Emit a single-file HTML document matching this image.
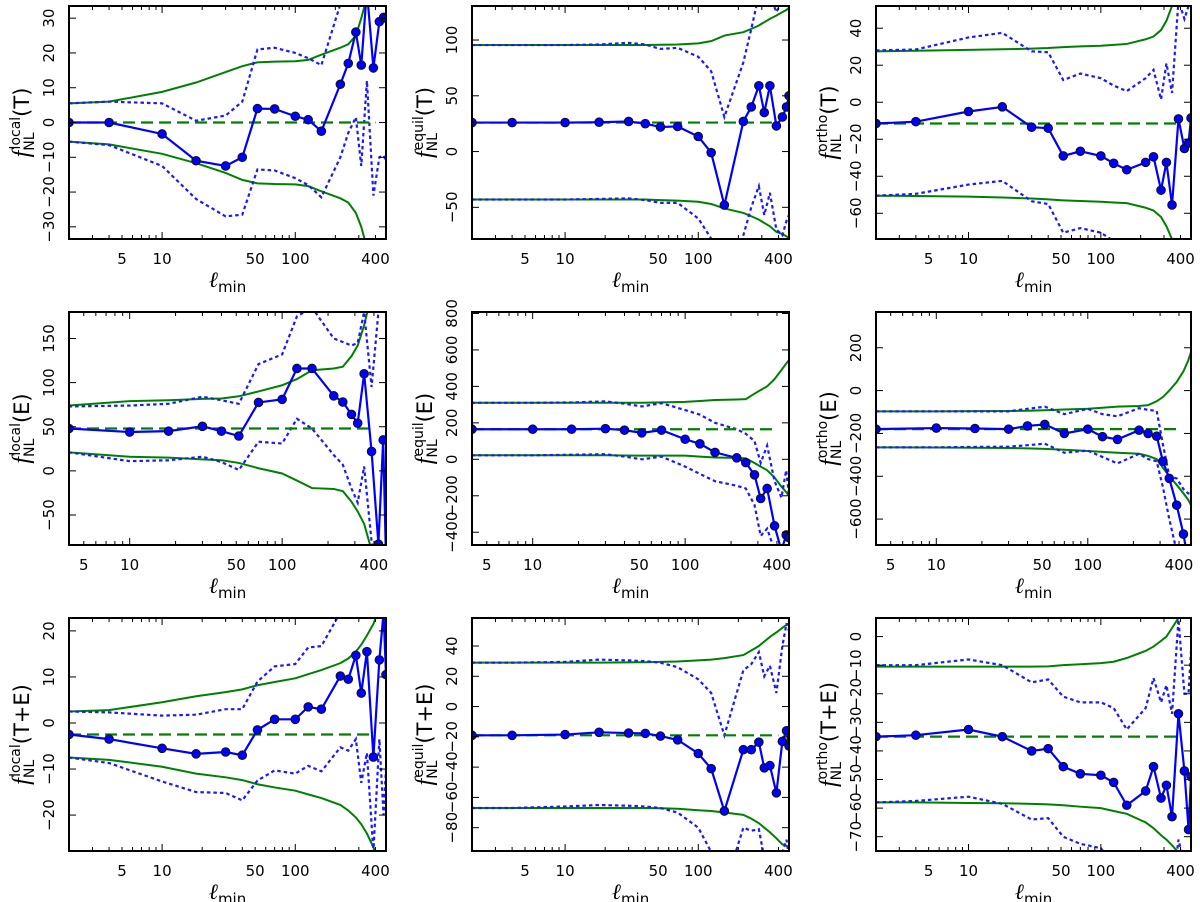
<!DOCTYPE html>
<html><head><meta charset="utf-8"><style>
html,body{margin:0;padding:0;background:#fff;}
svg{display:block;font-family:"DejaVu Sans","Liberation Sans",sans-serif;}
</style></head><body>
<svg id="fig" width="1200" height="902" viewBox="0 0 1200 902" xmlns="http://www.w3.org/2000/svg"></svg>
<script>
const ell = [2,4,10,18,30,40,52,70,100,125,157,218,250,285,313,345,386,428,460,480];
const xTickLabels = [5,10,50,100,400];
// Row 1 col 1: local T
const c11 = [0,0,-3.3,-11,-12.5,-10,4,3.9,1.8,0.8,-2.5,11,17,26,16.5,38,15.7,29,30.2,30];
const gu11 = [5.5,6,8.8,11.5,14.5,16.2,17.3,17.5,17.6,18,19.5,21.5,22.5,25,30,36,45,55,60,65];
const gl11 = [-5.5,-6.3,-9,-11.7,-14.5,-16.5,-17.5,-17.7,-17.8,-18.3,-19.8,-21.8,-23,-26,-30,-36,-45,-55,-60,-65];
const bu11 = [5.5,6,5.5,0.5,2,6,21,21.5,20,18.5,16.5,34,40,45,50,55,52,60,62,65];
const bl11 = [-5.5,-6.5,-12.5,-22,-27,-26.5,-13.5,-13.8,-16,-18,-21.5,-10,-3,1.5,-12.5,12,-21,-10,-9.5,-11];
const yt11 = [-30,-20,-10,0,10,20,30];
// Row 1 col 2: equil T
const c12 = [26,26,26,26.3,27,25,22,22.5,13.5,-1,-48,27,40,59,35,59,23,31,40,50];
const gu12 = [95.5,95.5,95.5,95.5,95.5,95.5,95.7,96,97,99,104,107,110,113,116,119,122,125,127,129];
const gl12 = [-43,-43,-43,-43,-43,-43,-43.5,-44,-45,-47,-51,-55,-58,-61,-64,-67,-72,-74,-76,-78];
const bu12 = [95.5,95.5,95.5,96,97.5,96,92,93,85,72,31,80,110,140,160,140,125,135,140,140];
const bl12 = [-43,-43,-43,-42.5,-42,-43.5,-46,-46,-60,-78,-120,-75,-50,-31,-57,-37,-70,-75,-62,-57];
const yt12 = [-50,0,50,100];
// Row 1 col 3: ortho T
const c13 = [-11.5,-10.5,-5,-2.5,-13.5,-14,-29,-26.5,-29,-33,-36.5,-32.5,-29.5,-47.5,-32.5,-55.5,-9,-25,-22,-8.5];
const gu13 = [27.5,27.8,28.3,28.6,29,29.3,29.8,30.2,30.5,31,31.5,34,35.5,39,44,52,60,66,70,72];
const gl13 = [-50.5,-50.7,-51,-51.5,-52,-52.5,-53,-53.4,-53.8,-54.2,-54.5,-57,-58.5,-62,-67,-74,-80,-85,-88,-90];
const bu13 = [28,28.5,35,37.5,27.5,27,12,15.5,13,9,6,13,17.5,1.5,21,5,55,45,52,55];
const bl13 = [-50.5,-49.5,-44.5,-42.5,-53.5,-55,-70.5,-68,-70.5,-75,-80,-88,-90,-92,-92,-95,-95,-95,-95,-95];
const yt13 = [-60,-40,-20,0,20,40];
// Row 2 col 1: local E
const c21 = [48,48,44,45,50.5,45,39.5,77.5,81,116,116,85,78,64,54,110,22,-83,35,-100];
const gu21 = [73,74,79,80,81.5,82,84.5,90,97,104,114,116,118,130,142,165,200,250,280,300];
const gl21 = [21,21,16,15,13,12,9,3,-3,-11,-19.5,-20.5,-23,-35,-46,-60,-90,-120,-140,-150];
const bu21 = [73,73,74,76,84,80,76,121,132,175,185,150,146,142,145,180,95,180,200,200];
const bl21 = [21,21,11,12,16,10,1,33,31,59,48,18,7,-20,-36,5,-80,-120,-130,-130];
const yt21 = [-50,0,50,100,150];
// Row 2 col 2: equil E
const c22 = [165,165,165,165,168,160,145,160,110,85,38,8,-18,-85,-215,-160,-365,-500,-415,-430];
const gu22 = [310,310,310,310,310,310,310,312,315,320,325,328,330,360,380,400,440,490,525,545];
const gl22 = [22,22,22,22,22,21,20,20,20,15,10,8,5,-20,-40,-60,-100,-150,-180,-200];
const bu22 = [310,310,310,312,318,305,290,308,270,245,200,165,140,100,-20,75,-120,-210,-60,-200];
const bl22 = [22,22,22,25,28,15,0,15,-40,-80,-120,-145,-160,-250,-420,-380,-500,-520,-520,-520];
const yt22 = [-400,-200,0,200,400,600,800];
// Row 2 col 3: ortho E
const c23 = [-180,-180,-175,-177,-180,-165,-158,-200,-180,-215,-228,-185,-200,-213,-330,-410,-535,-670,-800,-850];
const gu23 = [-97,-97,-97,-96,-95,-94,-92,-88,-85,-80,-75,-72,-68,-50,-30,0,40,90,140,180];
const gl23 = [-265,-265,-266,-267,-268,-270,-272,-276,-282,-286,-290,-295,-305,-320,-360,-400,-440,-480,-510,-535];
const bu23 = [-97,-97,-97,-97,-97,-85,-75,-110,-85,-110,-120,-82,-90,-95,-250,-400,-410,-460,-480,-480];
const bl23 = [-265,-265,-265,-263,-262,-255,-248,-290,-280,-310,-340,-295,-320,-330,-450,-600,-750,-800,-800,-800];
const yt23 = [-600,-400,-200,0,200];
// Row 3 col 1: local T+E
const c31 = [-2.5,-3.5,-5.5,-6.7,-6.3,-7,-1.5,0.8,0.8,3.5,3,10.2,9.5,14.7,6.5,15.5,-7.4,13.7,24,10.5];
const gu31 = [2.5,2.8,4.5,5.8,6.7,7.3,8.2,8.9,9.7,10.6,11.5,13,14,15.5,17,19,21.5,25,28,30];
const gl31 = [-7.5,-8,-9.5,-11,-11.8,-12.4,-13.3,-14,-14.7,-15.5,-16.3,-17.8,-19,-20.5,-22,-24,-27,-30,-32,-33];
const bu31 = [2.5,2.3,1.6,1.8,3,3,9,12.3,12.8,16.4,16.7,24,28,30,32,34,30,35,36,36];
const bl31 = [-7.5,-8.7,-12.7,-15,-15.2,-16.8,-12.5,-10.3,-11,-9.3,-10.5,-5.3,-6,-3.5,-13,-6.5,-28,-3.5,-20,-10];
const yt31 = [-20,-10,0,10,20];
// Row 3 col 2: equil T+E
const c32 = [-19,-19,-18.5,-17,-17.5,-17.7,-19.5,-22,-31,-41,-69,-28.5,-28.5,-23.5,-40.5,-39,-57,-23,-16,-26];
const gu32 = [29,29,29,29,29.2,29.3,29.5,29.8,30.5,31,32,34,37,40,43,46,49,52,54,55];
const gl32 = [-67,-67,-67,-67,-67,-67,-67.2,-67.5,-68.5,-69,-70,-71.5,-74,-77,-80,-83,-87,-91,-92,-93];
const bu32 = [29,29,29.5,31,30.5,30,29,26,18,9,-19,24,28,36,20,27,9,40,55,50];
const bl32 = [-67,-67,-66,-65,-65.5,-66,-67,-70,-80,-96,-120,-80,-82,-81,-100,-110,-115,-96,-88,-100];
const yt32 = [-80,-60,-40,-20,0,20,40];
// Row 3 col 3: ortho T+E
const c33 = [-35,-34.5,-32.5,-35,-40,-39.2,-45.5,-48,-48.5,-51,-59,-54,-45.5,-56.5,-52,-63,-27,-47,-67.5,-49];
const gu33 = [-10.5,-10.5,-10.5,-10.5,-10.5,-10.4,-10,-9.7,-9.3,-8.8,-7.5,-5,-3.5,-1.5,0,3,6.5,10,12,13];
const gl33 = [-58,-58,-58.2,-58.3,-58.5,-58.7,-59,-59.5,-60,-61,-62,-65,-67,-69.5,-71,-73,-75.5,-78,-80,-81];
const bu33 = [-10,-10,-8,-10,-16,-15,-21,-23,-23,-25,-32.5,-25,-14.5,-23,-17,-27,6,-20,-20,-5];
const bl33 = [-58,-57.5,-56,-58.5,-64,-63.5,-70,-72.5,-74,-80,-85,-90,-90,-90,-90,-90,-71,-80,-80,-80];
const yt33 = [-70,-60,-50,-40,-30,-20,-10,0];

const NS = "http://www.w3.org/2000/svg";
const svg = document.getElementById('fig');
function mk(tag, attrs, parent){
  const e = document.createElementNS(NS, tag);
  for (const k in attrs) e.setAttribute(k, attrs[k]);
  (parent||svg).appendChild(e);
  return e;
}
const cols = [[69,386],[472,789],[876,1191]];
const rows = [[6,239],[312,545],[618,851]];
const panels = [
 {r:0,c:0,xmin:2,ymin:-33.5,ymax:33.5,sup:'local',arg:'T',d:[c11,gu11,gl11,bu11,bl11],yt:yt11,n:'local-t'},
 {r:0,c:1,xmin:2,ymin:-78.4,ymax:130.5,sup:'equil',arg:'T',d:[c12,gu12,gl12,bu12,bl12],yt:yt12,n:'equil-t'},
 {r:0,c:2,xmin:2,ymin:-73.9,ymax:52,sup:'ortho',arg:'T',d:[c13,gu13,gl13,bu13,bl13],yt:yt13,n:'ortho-t'},
 {r:1,c:0,xmin:4,ymin:-84,ymax:180,sup:'local',arg:'E',d:[c21,gu21,gl21,bu21,bl21],yt:yt21,n:'local-e'},
 {r:1,c:1,xmin:4,ymin:-470,ymax:808,sup:'equil',arg:'E',d:[c22,gu22,gl22,bu22,bl22],yt:yt22,n:'equil-e'},
 {r:1,c:2,xmin:4,ymin:-721,ymax:367,sup:'ortho',arg:'E',d:[c23,gu23,gl23,bu23,bl23],yt:yt23,n:'ortho-e'},
 {r:2,c:0,xmin:2,ymin:-27.8,ymax:22.8,sup:'local',arg:'T+E',d:[c31,gu31,gl31,bu31,bl31],yt:yt31,n:'local-te'},
 {r:2,c:1,xmin:2,ymin:-95.4,ymax:58.5,sup:'equil',arg:'T+E',d:[c32,gu32,gl32,bu32,bl32],yt:yt32,n:'equil-te'},
 {r:2,c:2,xmin:2,ymin:-75,ymax:6.5,sup:'ortho',arg:'T+E',d:[c33,gu33,gl33,bu33,bl33],yt:yt33,n:'ortho-te'}
];
const XMAX = 480;
function fmt(v){ return v<0 ? '\u2212'+Math.abs(v) : ''+v; }

panels.forEach((p,i)=>{
  const [x0,x1] = cols[p.c], [y0,y1] = rows[p.r];
  const g = mk('g',{});
  
  
  const lx0 = Math.log10(p.xmin), lx1 = Math.log10(XMAX);
  const X = v => x0 + (Math.log10(v)-lx0)/(lx1-lx0)*(x1-x0);
  const Y = v => y1 - (v-p.ymin)/(p.ymax-p.ymin)*(y1-y0);
  const cp = mk('clipPath',{id:'cp'+i}, g);
  mk('rect',{x:x0,y:y0,width:x1-x0,height:y1-y0}, cp);
  const plot = mk('g',{'clip-path':'url(#cp'+i+')'}, g);
  const pts = arr => ell.map((l,k)=>X(l).toFixed(2)+','+Y(arr[k]).toFixed(2)).join(' ');
  const [c,gu,gl,bu,bl] = p.d;
  let e;
  e = mk('polyline',{points:pts(gu),fill:'none',stroke:'#008000','stroke-width':2}, plot);
  
  
  e = mk('polyline',{points:pts(gl),fill:'none',stroke:'#008000','stroke-width':2}, plot);
  
  
  e = mk('polyline',{points:pts(bu),fill:'none',stroke:'#1a1aff','stroke-width':2.2,'stroke-dasharray':'3.5,3'}, plot);
  
  
  e = mk('polyline',{points:pts(bl),fill:'none',stroke:'#1a1aff','stroke-width':2.2,'stroke-dasharray':'3.5,3'}, plot);
  
  
  e = mk('line',{x1:X(p.xmin),x2:X(400),y1:Y(c[p.xmin===2?0:1]),y2:Y(c[p.xmin===2?0:1]),stroke:'#008000','stroke-width':2.2,'stroke-dasharray':'12,6'}, plot);
  
  
  e = mk('polyline',{points:pts(c),fill:'none',stroke:'#0000ff','stroke-width':2.2}, plot);
  
  
  ell.forEach((l,k)=>{
    const m = mk('circle',{cx:X(l),cy:Y(c[k]),r:4.3,fill:'#0000ff',stroke:'#111','stroke-width':1}, plot);
    
    
  });
  e = mk('rect',{x:x0,y:y0,width:x1-x0,height:y1-y0,fill:'none',stroke:'#000','stroke-width':2}, g);
  
  
  for (let d=0; d<3; d++){
    for (let k=1; k<10; k++){
      const v = k*Math.pow(10,d);
      if (v<p.xmin || v>XMAX) continue;
      const major = (k===1);
      const len = major?7:4;
      const xx = X(v);
      mk('line',{x1:xx,x2:xx,y1:y1,y2:y1-len,stroke:'#000','stroke-width':1}, g);
      mk('line',{x1:xx,x2:xx,y1:y0,y2:y0+len,stroke:'#000','stroke-width':1}, g);
    }
  }
  xTickLabels.forEach(v=>{
    const t = mk('text',{x:X(v),y:y1+25,'text-anchor':'middle','font-size':15}, g);
    t.textContent = v;
    
    
  });
  const xl = mk('text',{x:(x0+x1)/2,y:y1+48,'text-anchor':'middle','font-size':19}, g);
  
  
  mk('tspan',{'font-style':'italic','font-family':'"Liberation Serif",serif','font-size':22}, xl).textContent = 'ℓ';
  mk('tspan',{dy:5,'font-size':15}, xl).textContent = 'min';
  p.yt.forEach(v=>{
    const yy = Y(v);
    mk('line',{x1:x0,x2:x0+7,y1:yy,y2:yy,stroke:'#000','stroke-width':1}, g);
    mk('line',{x1:x1,x2:x1-7,y1:yy,y2:yy,stroke:'#000','stroke-width':1}, g);
    const t = mk('text',{transform:`translate(${x0-20},${yy}) rotate(-90)`,'text-anchor':'middle','dominant-baseline':'central','font-size':15}, g);
    t.textContent = fmt(v);
    
    
  });
  const yc = (y0+y1)/2;
  const yl = mk('text',{transform:`translate(${x0-40},${yc}) rotate(-90)`,'text-anchor':'middle','font-size':21}, g);
  
  
  mk('tspan',{'font-style':'italic','font-family':'"Liberation Serif",serif','font-size':24}, yl).textContent = 'f';
  mk('tspan',{dy:5,'font-size':14}, yl).textContent = 'NL';
  mk('tspan',{dx:-17,dy:-14,'font-size':14}, yl).textContent = p.sup;
  mk('tspan',{dy:9}, yl).textContent = '('+p.arg+')';
});
</script>
</body></html>
